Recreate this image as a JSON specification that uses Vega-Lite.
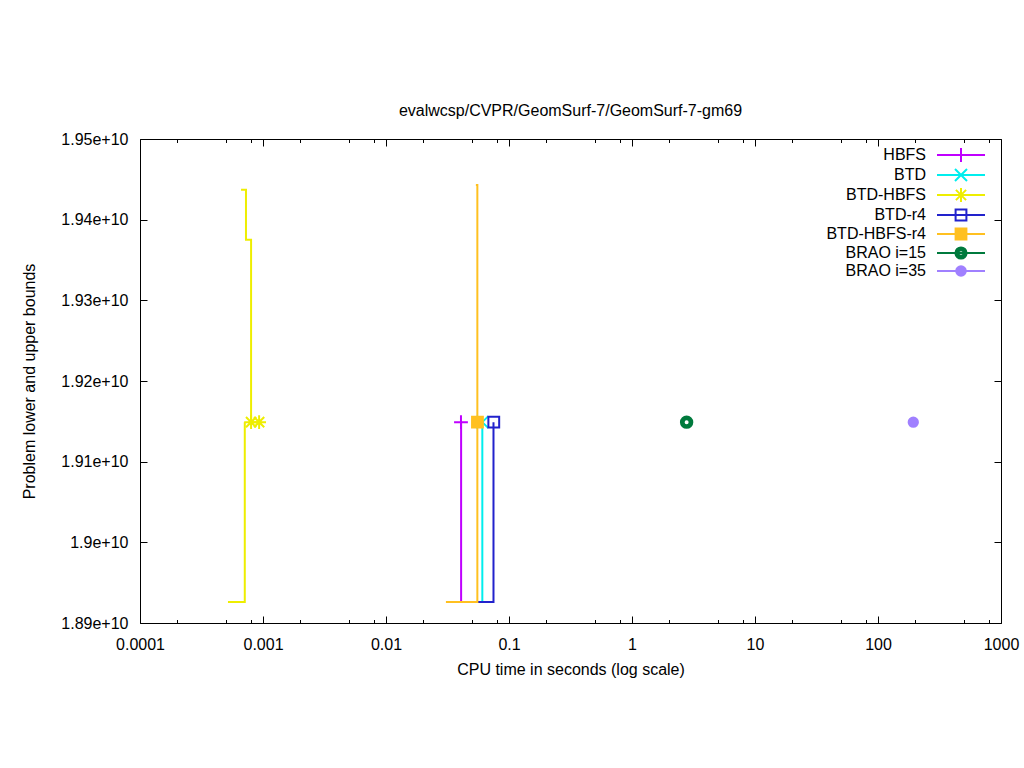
{
  "$schema": "https://vega.github.io/schema/vega-lite/v6.json",
  "width": 861,
  "height": 484,
  "autosize": {"type": "none"},
  "padding": {"left": 140, "top": 139, "right": 23, "bottom": 145},
  "background": "white",
  "title": {"text": "evalwcsp/CVPR/GeomSurf-7/GeomSurf-7-gm69", "fontSize": 16, "font": "Liberation Sans", "fontWeight": "normal", "offset": 12, "color": "black"},
  "config": {
    "view": {"stroke": "black", "strokeWidth": 1},
    "axis": {"grid": false, "domain": false, "tickColor": "black", "tickWidth": 1, "labelColor": "black", "labelFont": "Liberation Sans", "labelFontSize": 16, "titleFont": "Liberation Sans", "titleFontSize": 16, "titleFontWeight": "normal", "titleColor": "black"}
  },
  "datasets": {
    "lines": [
      {"series": "HBFS", "bound": "lb", "t": 0.032, "v": 18926000000},
      {"series": "HBFS", "bound": "lb", "t": 0.0408, "v": 19149000000},
      {"series": "BTD", "bound": "lb", "t": 0.034, "v": 18926000000},
      {"series": "BTD", "bound": "lb", "t": 0.0607, "v": 19149000000},
      {"series": "BTD-HBFS", "bound": "lb", "t": 0.000519, "v": 18926000000},
      {"series": "BTD-HBFS", "bound": "lb", "t": 0.000711, "v": 19149000000},
      {"series": "BTD-HBFS", "bound": "ub", "t": 0.000663, "v": 19437000000},
      {"series": "BTD-HBFS", "bound": "ub", "t": 0.000727, "v": 19375000000},
      {"series": "BTD-HBFS", "bound": "ub", "t": 0.0008, "v": 19149000000},
      {"series": "BTD-r4", "bound": "lb", "t": 0.05, "v": 18926000000},
      {"series": "BTD-r4", "bound": "lb", "t": 0.0748, "v": 19149000000},
      {"series": "BTD-HBFS-r4", "bound": "lb", "t": 0.0307, "v": 18926000000},
      {"series": "BTD-HBFS-r4", "bound": "lb", "t": 0.0553, "v": 19149000000},
      {"series": "BTD-HBFS-r4", "bound": "ub", "t": 0.0538, "v": 19443000000},
      {"series": "BTD-HBFS-r4", "bound": "ub", "t": 0.0553, "v": 19149000000}
    ],
    "marks": [
      {"series": "HBFS", "t": 0.0407, "v": 19149000000},
      {"series": "BTD", "t": 0.0607, "v": 19149000000},
      {"series": "BTD-HBFS", "t": 0.0008, "v": 19149000000},
      {"series": "BTD-HBFS", "t": 0.00093, "v": 19149000000},
      {"series": "BTD-r4", "t": 0.0752, "v": 19149000000},
      {"series": "BTD-HBFS-r4", "t": 0.0554, "v": 19149000000},
      {"series": "BRAO i=15", "t": 2.78, "v": 19149000000},
      {"series": "BRAO i=35", "t": 193.6, "v": 19149000000}
    ]
  },
  "layer": [
    {
      "data": {"name": "lines"},
      "mark": {"type": "line", "interpolate": "step-after", "strokeWidth": 2},
      "encoding": {
        "x": {
          "field": "t", "type": "quantitative",
          "scale": {"type": "log", "domain": [0.0001, 1000], "nice": false},
          "axis": {
            "orient": "bottom",
            "values": [0.0001, 0.0002, 0.0005, 0.0008, 0.001, 0.002, 0.005, 0.008, 0.01, 0.02, 0.05, 0.08, 0.1, 0.2, 0.5, 0.8, 1, 2, 5, 8, 10, 20, 50, 80, 100, 200, 500, 800, 1000],
            "labelExpr": "abs(log(datum.value)/LN10 - round(log(datum.value)/LN10)) < 0.01 ? format(datum.value, '~g') : ''",
            "ticks": true,
            "tickSize": {"condition": {"test": "abs(log(datum.value)/LN10 - round(log(datum.value)/LN10)) < 0.01", "value": -7}, "value": -3.5},
            "labelPadding": 20,
            "labelOverlap": false,
            "labelFlush": false,
            "title": "CPU time in seconds (log scale)",
            "titlePadding": 6,
            "minExtent": 0
          }
        },
        "y": {
          "field": "v", "type": "quantitative",
          "scale": {"domain": [18900000000, 19500000000], "nice": false, "zero": false},
          "axis": {
            "orient": "left",
            "values": [18900000000, 19000000000, 19100000000, 19200000000, 19300000000, 19400000000, 19500000000],
            "format": ".3~e",
            "ticks": true,
            "tickSize": -7,
            "labelPadding": 19,
            "title": "Problem lower and upper bounds",
            "titlePadding": 23
          }
        },
        "color": {
          "field": "series", "type": "nominal",
          "scale": {
            "domain": ["HBFS", "BTD", "BTD-HBFS", "BTD-r4", "BTD-HBFS-r4", "BRAO i=15", "BRAO i=35"],
            "range": ["#c000ff", "#00eeee", "#eeee00", "#2222cc", "#ffc020", "#007a3d", "#a080ff"]
          },
          "legend": {
            "orient": "none",
            "legendX": 813,
            "legendY": 8,
            "title": null,
            "padding": 0,
            "labelAlign": "right",
            "labelOffset": -43,
            "labelFont": "Liberation Sans",
            "labelFontSize": 16,
            "labelColor": "black",
            "labelLimit": 300,
            "symbolSize": 36,
            "symbolStrokeWidth": 2,
            "rowPadding": -1,
            "encode": {
              "symbols": {
                "update": {
                  "shape": {"signal": "datum.value === 'HBFS' ? 'M-8,0H8M0,-2.3V2.3' : datum.value === 'BTD' ? 'M-8,0H8M-2,-2L2,2M-2,2L2,-2' : datum.value === 'BTD-HBFS' ? 'M-8,0H8M0,-2.3V2.3M-1.7,-1.7L1.7,1.7M-1.7,1.7L1.7,-1.7' : (datum.value === 'BTD-r4' || datum.value === 'BTD-HBFS-r4') ? 'M-8,0H8M-1.8,-1.8H1.8V1.8H-1.8Z' : datum.value === 'BRAO i=15' ? 'M-8,0H8M-1.85,0A1.85,1.85,0,1,1,1.85,0A1.85,1.85,0,1,1,-1.85,0ZM-0.9,0A0.9,0.9,0,1,0,0.9,0A0.9,0.9,0,1,0,-0.9,0Z' : 'M-8,0H8M-1.6,0A1.6,1.6,0,1,1,1.6,0A1.6,1.6,0,1,1,-1.6,0Z'"},
                  "fill": {"signal": "datum.value === 'BTD-HBFS-r4' ? '#ffc020' : datum.value === 'BRAO i=15' ? '#007a3d' : datum.value === 'BRAO i=35' ? '#a080ff' : 'transparent'"},
                  "strokeWidth": {"value": 2},
                  "opacity": {"value": 1}
                }
              }
            }
          }
        },
        "detail": {"field": "bound", "type": "nominal"}
      }
    },
    {
      "data": {"name": "marks"},
      "encoding": {
        "x": {
          "field": "t", "type": "quantitative",
          "scale": {"type": "log", "domain": [0.0001, 1000], "nice": false},
          "axis": {
            "orient": "top",
            "values": [0.0001, 0.0002, 0.0005, 0.0008, 0.001, 0.002, 0.005, 0.008, 0.01, 0.02, 0.05, 0.08, 0.1, 0.2, 0.5, 0.8, 1, 2, 5, 8, 10, 20, 50, 80, 100, 200, 500, 800, 1000],
            "labels": false,
            "title": null,
            "ticks": true,
            "tickSize": {"condition": {"test": "abs(log(datum.value)/LN10 - round(log(datum.value)/LN10)) < 0.01", "value": -7}, "value": -3.5},
            "minExtent": 0
          }
        },
        "y": {
          "field": "v", "type": "quantitative",
          "scale": {"domain": [18900000000, 19500000000], "nice": false, "zero": false},
          "axis": {
            "orient": "right",
            "values": [18900000000, 19000000000, 19100000000, 19200000000, 19300000000, 19400000000, 19500000000],
            "labels": false,
            "title": null,
            "ticks": true,
            "tickSize": -7,
            "minExtent": 0
          }
        },
        "stroke": {
          "field": "series", "type": "nominal",
          "scale": {
            "domain": ["HBFS", "BTD", "BTD-HBFS", "BTD-r4", "BTD-HBFS-r4", "BRAO i=15", "BRAO i=35"],
            "range": ["#c000ff", "#00eeee", "#eeee00", "#2222cc", "#ffc020", "#007a3d", "#a080ff"]
          },
          "legend": null
        },
        "fill": {
          "field": "series", "type": "nominal",
          "scale": {
            "domain": ["HBFS", "BTD", "BTD-HBFS", "BTD-r4", "BTD-HBFS-r4", "BRAO i=15", "BRAO i=35"],
            "range": ["transparent", "transparent", "transparent", "transparent", "#ffc020", "#007a3d", "#a080ff"]
          },
          "legend": null
        }
      },
      "layer": [
        {"transform": [{"filter": "datum.series === 'HBFS'"}], "mark": {"type": "point", "shape": "M-2.3,0H2.3M0,-2.3V2.3", "size": 36, "strokeWidth": 2, "opacity": 1, "filled": true}},
        {"transform": [{"filter": "datum.series === 'BTD'"}], "mark": {"type": "point", "shape": "M-2,-2L2,2M-2,2L2,-2", "size": 36, "strokeWidth": 2, "opacity": 1, "filled": true}},
        {"transform": [{"filter": "datum.series === 'BTD-HBFS'"}], "mark": {"type": "point", "shape": "M-2.3,0H2.3M0,-2.3V2.3M-1.7,-1.7L1.7,1.7M-1.7,1.7L1.7,-1.7", "size": 36, "strokeWidth": 2, "opacity": 1, "filled": true}},
        {"transform": [{"filter": "datum.series === 'BTD-r4'"}], "mark": {"type": "point", "shape": "M-1.8,-1.8H1.8V1.8H-1.8Z", "size": 36, "strokeWidth": 2, "opacity": 1, "filled": true}},
        {"transform": [{"filter": "datum.series === 'BTD-HBFS-r4'"}], "mark": {"type": "point", "shape": "M-1.8,-1.8H1.8V1.8H-1.8Z", "size": 36, "strokeWidth": 2, "opacity": 1, "filled": true}},
        {"transform": [{"filter": "datum.series === 'BRAO i=15'"}], "mark": {"type": "point", "shape": "M-1.9,0A1.9,1.9,0,1,1,1.9,0A1.9,1.9,0,1,1,-1.9,0ZM-1,0A1,1,0,1,0,1,0A1,1,0,1,0,-1,0Z", "size": 36, "strokeWidth": 2, "opacity": 1, "filled": true}},
        {"transform": [{"filter": "datum.series === 'BRAO i=35'"}], "mark": {"type": "point", "shape": "M-1.55,0A1.55,1.55,0,1,1,1.55,0A1.55,1.55,0,1,1,-1.55,0Z", "size": 36, "strokeWidth": 2, "opacity": 1, "filled": true}}
      ]
    }
  ],
  "resolve": {"axis": {"x": "independent", "y": "independent"}}
}
